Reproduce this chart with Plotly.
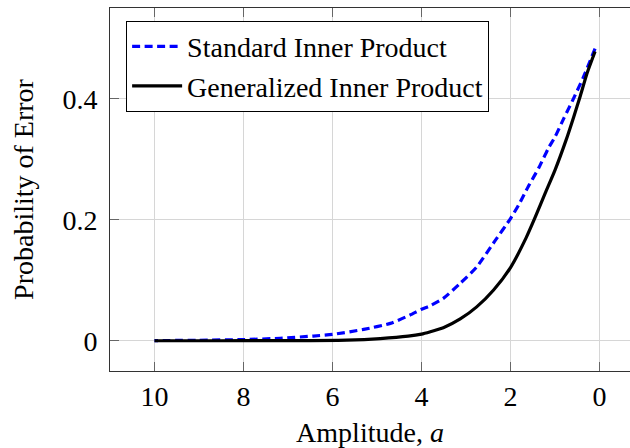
import plotly.graph_objects as go

# Amplitude values and probability of error
std_a = [0.1, 0.36, 0.58, 0.8, 1.0, 1.15, 1.37, 1.6, 1.82, 2.0, 2.35, 2.76, 3.13,
         3.51, 3.8, 4.0, 4.26, 4.7, 5.3, 6.0, 6.43, 7.18, 8.0, 9.0, 10.0]
std_p = [0.483, 0.436, 0.401, 0.368, 0.337, 0.318, 0.285, 0.255, 0.224, 0.202, 0.165,
         0.122, 0.095, 0.070, 0.058, 0.052, 0.0425, 0.0287, 0.0188, 0.0105, 0.0078,
         0.004, 0.002, 0.0008, 0.0003]

gen_a = [0.1, 0.28, 0.43, 0.58, 0.75, 1.0, 1.22, 1.44, 1.65, 2.0, 2.38, 2.76, 3.13,
         3.51, 3.8, 4.0, 4.3, 4.93, 5.68, 6.5, 7.5, 8.5, 10.0]
gen_p = [0.478, 0.442, 0.405, 0.370, 0.332, 0.282, 0.244, 0.205, 0.170, 0.121, 0.084,
         0.056, 0.036, 0.0215, 0.0150, 0.0110, 0.0075, 0.0035, 0.001, 0.0003, 0.0001,
         0.0, 0.0]

x_ticks = [10, 8, 6, 4, 2, 0]
y_ticks = [0, 0.2, 0.4]
y_tick_text = ["0", "0.2", "0.4"]

FONT = "Liberation Serif, DejaVu Serif, serif"

fig = go.Figure()
fig.add_trace(go.Scatter(
    x=std_a, y=std_p, mode="lines", name="Standard Inner Product",
    line=dict(color="#0000ff", width=3.2, dash="8px,4.5px", shape="spline", smoothing=0.6),
))
fig.add_trace(go.Scatter(
    x=gen_a, y=gen_p, mode="lines", name="Generalized Inner Product",
    line=dict(color="#000000", width=3.2, shape="spline", smoothing=0.6),
))

fig.update_layout(
    width=630, height=448,
    margin=dict(l=110, r=0, t=8, b=77),
    paper_bgcolor="white", plot_bgcolor="white",
    font=dict(family=FONT, size=28, color="black"),
    showlegend=True,
    legend=dict(
        x=0.031, y=0.965, xanchor="left", yanchor="top",
        bgcolor="white", bordercolor="black", borderwidth=1,
        font=dict(family=FONT, size=28, color="black"),
        tracegroupgap=0, itemwidth=50,
    ),
)

fig.update_xaxes(
    range=[11, -0.685],
    tickmode="array", tickvals=x_ticks, ticktext=[str(v) for v in x_ticks],
    showgrid=True, gridcolor="#d6d6d6", gridwidth=1,
    zeroline=False,
    showline=True, linecolor="#333333", linewidth=1, mirror="ticks",
    ticks="inside", ticklen=9, tickcolor="#666666", tickwidth=1,
    tickfont=dict(family=FONT, size=28, color="black"),
    title=dict(text="Amplitude, <i>a</i>", font=dict(family=FONT, size=28), standoff=11),
)
fig.update_yaxes(
    range=[-0.05, 0.55],
    tickmode="array", tickvals=y_ticks, ticktext=y_tick_text,
    showgrid=True, gridcolor="#d6d6d6", gridwidth=1,
    zeroline=False,
    showline=True, linecolor="#333333", linewidth=1,
    ticks="inside", ticklen=9, tickcolor="#666666", tickwidth=1,
    tickfont=dict(family=FONT, size=28, color="black"),
    ticklabelstandoff=6,
    title=dict(text="Probability of Error", font=dict(family=FONT, size=28), standoff=20),
)

fig.write_html("out.html")
